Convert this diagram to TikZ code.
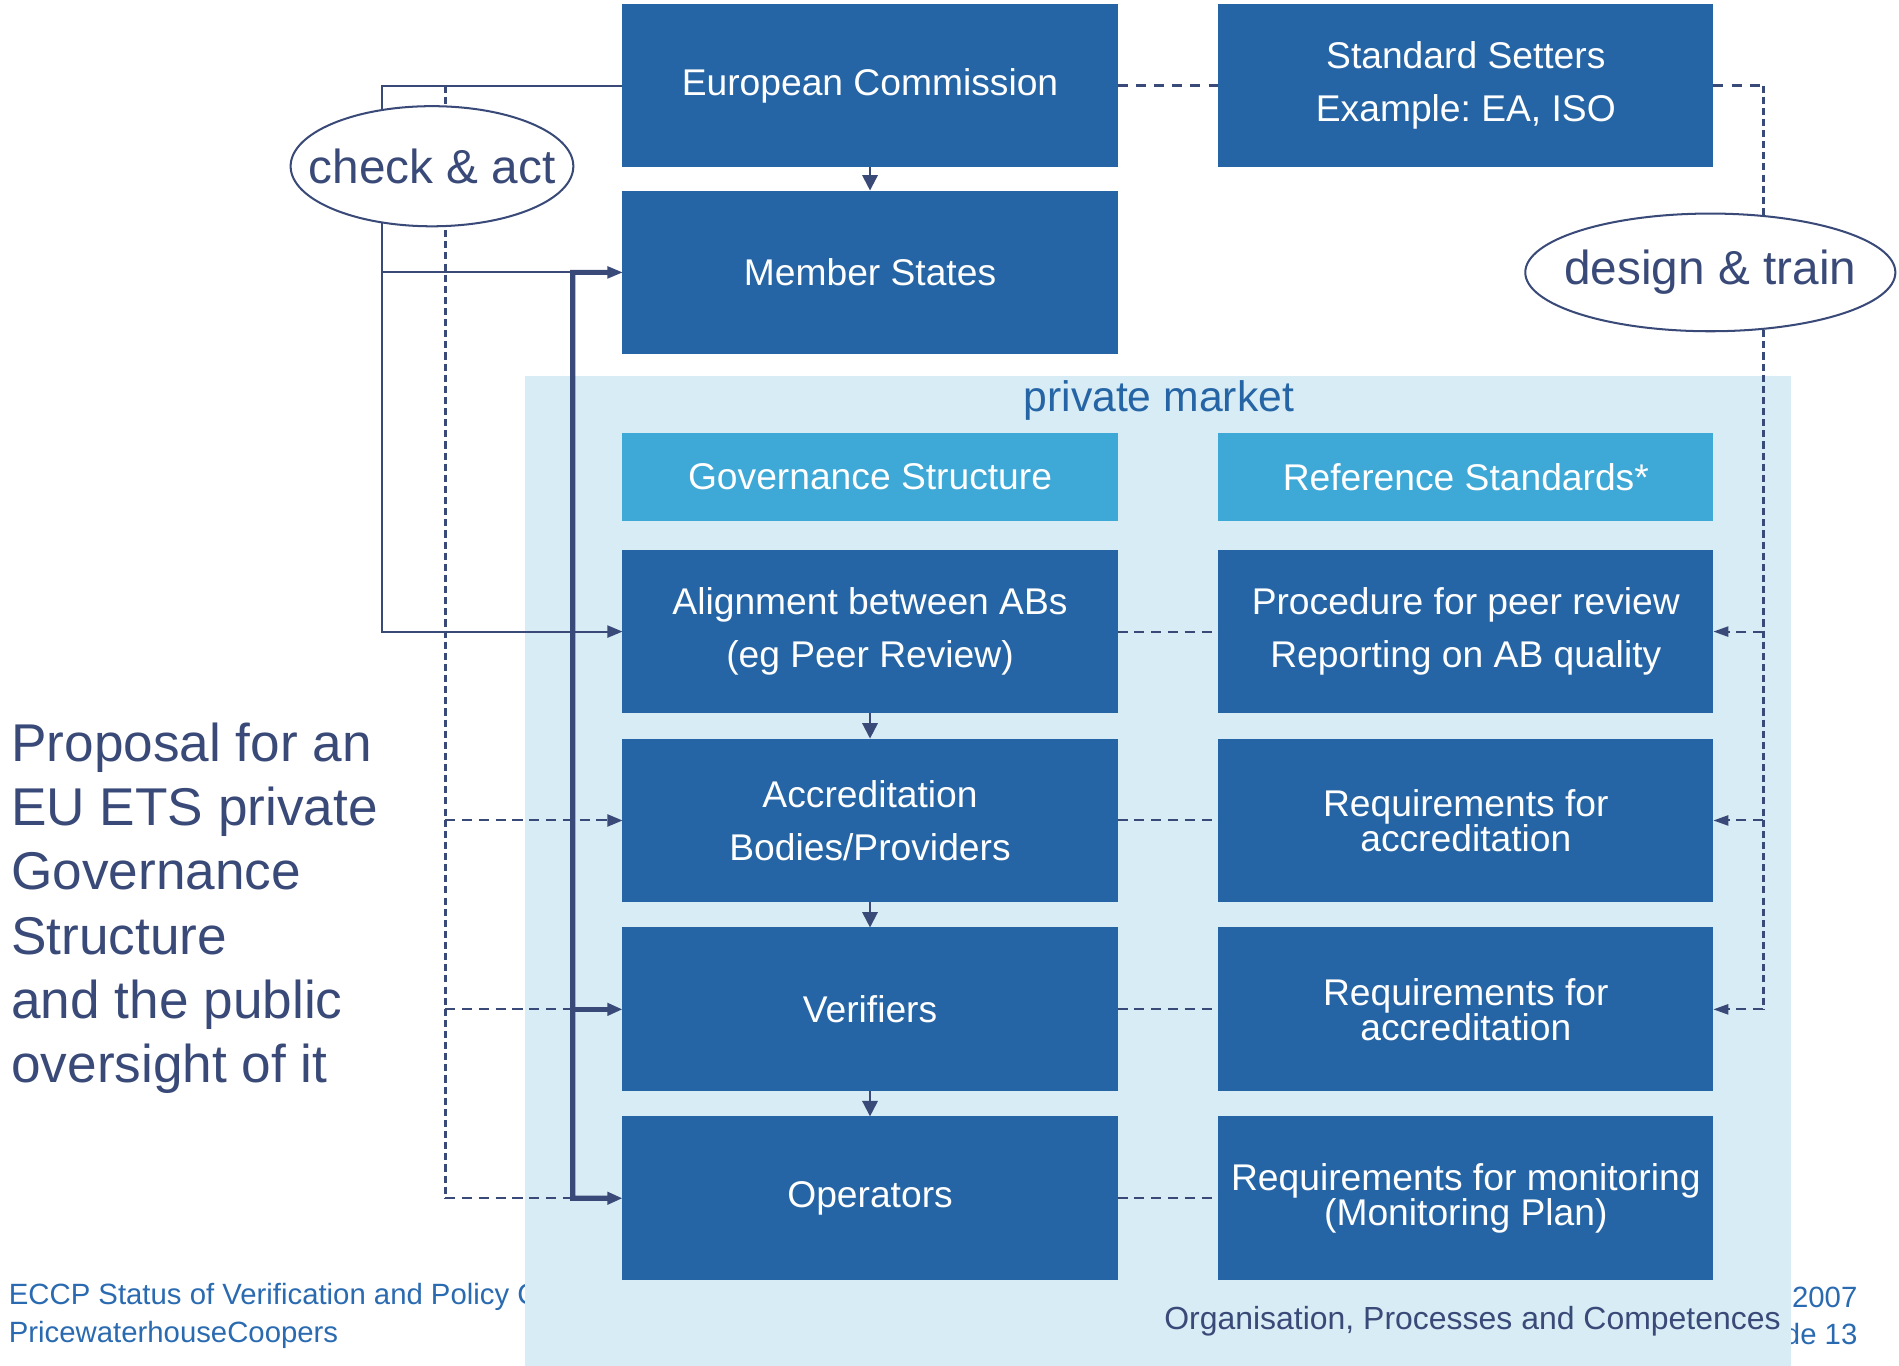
\documentclass[tikz,border=0pt]{standalone}
\usepackage{fontspec}
\setmainfont{Liberation Sans}
\frenchspacing
\usetikzlibrary{arrows.meta,positioning,shapes}
\definecolor{ecblue}{RGB}{38,101,165}
\definecolor{hdblue}{RGB}{62,168,214}
\definecolor{pmback}{RGB}{215,236,245}
\definecolor{inkline}{RGB}{58,74,120}
\definecolor{footblue}{RGB}{42,106,176}

\begin{document}
\begin{tikzpicture}[x=0.6pt,y=-0.6pt,
  box/.style={rectangle, fill=ecblue, text=white, minimum width=244.8pt, minimum height=81pt,
    inner sep=0pt, outer sep=0pt, align=center, font=\fontsize{18.4}{26.4}\selectfont},
  hdr/.style={box, fill=hdblue, minimum height=43.2pt},
  tight/.style={font=\fontsize{18.4}{17.4}\selectfont},
  oval/.style={draw=inkline, line width=1pt, fill=white},
  ovaltext/.style={text=inkline, inner sep=0pt, font=\fontsize{23.6}{28}\selectfont},
  drop/.style={draw=inkline, line width=1pt, -{Triangle[length=7.6pt,width=7.6pt]}},
  flow/.style={draw=inkline, line width=1pt, -{Triangle[length=7.5pt,width=6pt]}},
  heavy/.style={draw=inkline, line width=2.5pt, -{Triangle[length=7.5pt,width=6pt]}},
  vdash/.style={draw=inkline, line width=1.4pt, dash pattern=on 3.5pt off 2pt},
  hdash/.style={draw=inkline, line width=1pt, dash pattern=on 5pt off 3.3pt},
  wdash/.style={draw=inkline, line width=1.3pt, dash pattern=on 5pt off 4pt},
  back/.style={hdash, -{Triangle[length=7.4pt,width=5pt]}}]
  \useasboundingbox (0,0) rectangle (1565,1125.7);

  \node[anchor=west, align=left, inner sep=0pt, text=footblue, font=\fontsize{14.5}{18.6}\selectfont]
    (ftl) at (7,1084.5) {ECCP Status of Verification and Policy C\\PricewaterhouseCoopers};
  \node[anchor=east, align=right, inner sep=0pt, text=footblue, font=\fontsize{14.5}{18.6}\selectfont]
    (ftr) at (1531,1084.5) {2007\\de 13};

  \fill[pmback] (433,310) rectangle (1476,1126);
  \node[text=ecblue, font=\fontsize{21.1}{25}\selectfont] (pm) at (955,330) {private market};
  \node[text=inkline, font=\fontsize{15.8}{19}\selectfont] (opc) at (1213.5,1089)
    {Organisation, Processes and Competences};

  \node[box] (ec) at (717,70.5) {European Commission};
  \node[box, right=49.8pt of ec] (ss) {Standard Setters\\Example: EA, ISO};
  \node[box, below=11.4pt of ec] (ms) {Member States};
  \node[hdr] (gs) at (717,393) {Governance Structure};
  \node[hdr, right=49.8pt of gs] (rs) {Reference Standards*};
  \node[box] (al) at (717,520.5) {Alignment between ABs\\(eg Peer Review)};
  \node[box, below=12.4pt of al] (ab) {Accreditation\\Bodies/Providers};
  \node[box, below=12.4pt of ab] (vf) {Verifiers};
  \node[box, below=12.4pt of vf] (op) {Operators};
  \node[box, right=49.8pt of al] (pr) {Procedure for peer review\\Reporting on AB quality};
  \node[box, tight, right=49.8pt of ab] (ra) {Requirements for\\accreditation};
  \node[box, tight, right=49.8pt of vf] (rv) {Requirements for\\accreditation};
  \node[box, tight, right=49.8pt of op] (rm) {Requirements for monitoring\\(Monitoring Plan)};

  \foreach \a/\b in {ec/ms,al/ab,ab/vf,vf/op}
    \draw[drop] (\a) -- (\b);
  \foreach \a/\b in {al/pr,ab/ra,vf/rv,op/rm}
    \draw[hdash] (\a) -- (\b);
  \draw[wdash] (ec) -- (ss);

  \coordinate (ca) at (315,70.5);
  \coordinate (cb) at (367,70.5);
  \coordinate (bus) at (472,224.5);
  \coordinate (cr) at (1453,70.5);

  \draw[heavy, shorten <=7pt] (ms.west) -- (bus) |- (op.west);
  \draw[heavy] (bus |- vf.west) -- (vf.west);
  \draw[vdash] (cb) -- (cb |- op.west);
  \draw[hdash] (cb |- op.west) -- (bus |- op.west);
  \draw[hdash] (cb |- vf.west) -- (bus |- vf.west);
  \draw[hdash, -{Triangle[length=7.5pt,width=6pt]}] (cb |- ab.west) -- (ab.west);
  \draw[flow] (ec.west) -- (ca) |- (al.west);
  \draw[flow] (ca |- ms.west) -- (ms.west);

  \draw[wdash] (ss.east) -- (cr);
  \draw[vdash] (cr) -- (cr |- rv.east);
  \foreach \n in {pr,ra,rv}
    \draw[back] (cr |- \n.east) -- (\n.east);

  \draw[oval] (356,137) ellipse [x radius=69.9pt, y radius=29.7pt];
  \node[ovaltext] (chk) at (356,137) {check \& act};
  \draw[oval] (1409.5,224.5) ellipse [x radius=91.5pt, y radius=29.1pt];
  \node[ovaltext] (dsg) at (1409.5,224.5) {design \& train};

  \node[anchor=west, align=left, inner sep=0pt, text=inkline, font=\fontsize{26.3}{31.8}\selectfont]
    (prop) at (9,748.5) {Proposal for an\\EU ETS private\\Governance\\Structure\\and the public\\oversight of it};
\end{tikzpicture}
\end{document}
